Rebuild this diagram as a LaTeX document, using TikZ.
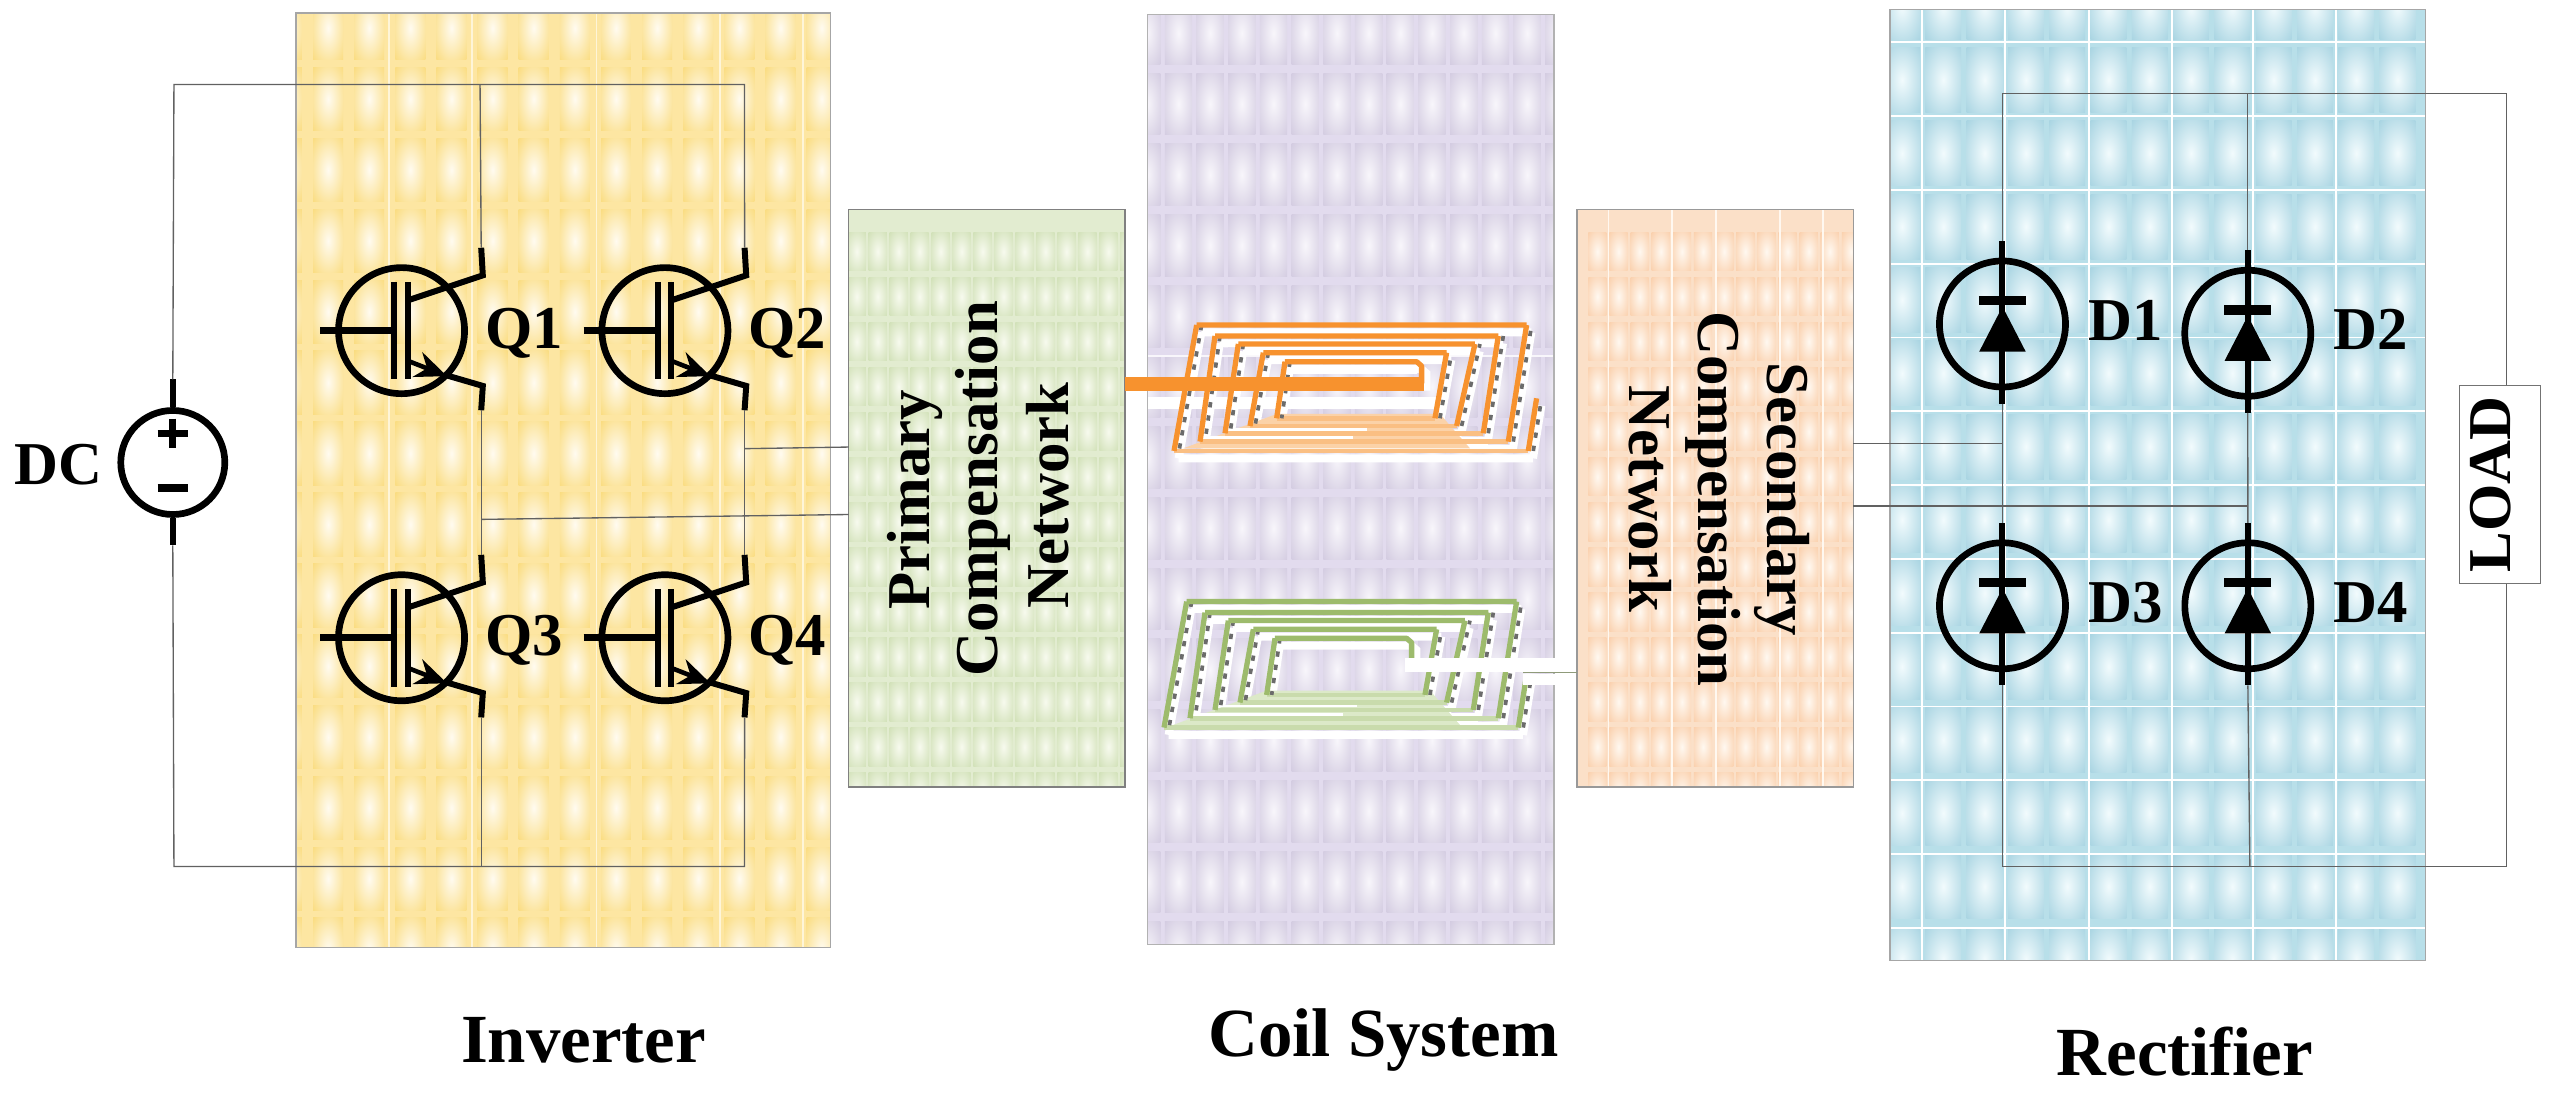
\documentclass[tikz,border=0pt]{standalone}
\usepackage{fontspec}
\setmainfont{Liberation Serif}
\usetikzlibrary{arrows.meta}

\definecolor{invb}{HTML}{FDE6A2}\definecolor{invt}{HTML}{FADB7C}\definecolor{invc}{HTML}{FFFBF0}
\definecolor{coib}{HTML}{E2DBEE}\definecolor{coit}{HTML}{D2CAE0}\definecolor{coic}{HTML}{F8F6FB}
\definecolor{recb}{HTML}{B8DFE9}\definecolor{rect}{HTML}{A6D3E1}\definecolor{recc}{HTML}{F2FBFD}
\definecolor{prib}{HTML}{E2ECD0}\definecolor{prit}{HTML}{D0E0B6}\definecolor{pric}{HTML}{F7FAEE}
\definecolor{secb}{HTML}{FBE0C8}\definecolor{sect}{HTML}{FACFAB}\definecolor{secc}{HTML}{FFF8F0}
\definecolor{coilorange}{HTML}{F7922E}\definecolor{coilpeach}{HTML}{FBD2A8}
\definecolor{coilgreen}{HTML}{9DBB6C}\definecolor{coilmint}{HTML}{DCE9C8}

\colorlet{tilein}{white}
\colorlet{tileout}{white}
\pgfdeclareradialshading[tilein,tileout]{tilesoft}{\pgfpoint{0bp}{0bp}}{%
  color(0bp)=(tilein); color(37bp)=(tileout); color(50bp)=(tileout)}

\tikzset{
  wire/.style={black!62,line width=0.38pt},
  sym/.style={circle,draw,line width=1.9pt,minimum size=1.26cm,inner sep=0pt},
  lead/.style={line width=1.7pt},
  tag/.style={font=\bfseries\fontsize{17.3}{19.6}\selectfont,inner sep=0pt},
  title/.style={font=\bfseries\fontsize{19.6}{22}\selectfont,inner sep=0pt},
  block/.style={tag,align=center,text depth=0pt}
}

% colour prefix, x0, y0, x1, y1, column list, row list, half tile w, half tile h
\newcommand{\tilearea}[9]{
  \begin{scope}
    \colorlet{tilein}{#1c}
    \colorlet{tileout}{#1t}
    \clip (#2,#3) rectangle (#4,#5);
    \fill[#1b] (#2,#3) rectangle (#4,#5);
    \foreach \cx in {#6}
      \foreach \cy in {#7}
        \shade[shading=tilesoft] ({\cx-#8},{\cy-#9}) rectangle ({\cx+#8},{\cy+#9});
  \end{scope}
}

% the spiral, in steps of its own
\newcommand{\coiltops}{(965,340)--(965,288)--(950,275)--(555,275) (1040,248)--(490,248)
  (1125,222)--(415,222) (1195,198)--(345,198) (1280,165)--(290,165)}
\newcommand{\coilsides}{(555,275)--(530,445) (490,248)--(450,468) (415,222)--(375,490)
  (345,198)--(300,515) (290,165)--(222,543) (1005,445)--(1040,248) (1070,468)--(1125,222)
  (1150,490)--(1195,198) (1225,515)--(1280,165) (1285,543)--(1310,385)}
\newcommand{\coilbottoms}{(530,445)--(1005,445) (450,468)--(1070,468) (375,490)--(1150,490)
  (300,515)--(1225,515) (222,543)--(1285,543)}
\newcommand{\coil}[2]{
  \draw[white,line width=2.3pt,shift={(14,22)}] \coiltops \coilsides \coilbottoms;
  \fill[#2] (530,432)--(1020,432)--(1110,535)--(250,535)--cycle;
  \draw[white,line width=0.8pt] (390,478)--(800,478) (320,503)--(760,503);
  \draw[#2!70!#1,line width=1.3pt] \coilbottoms;
  \draw[black!58,line width=1.05pt,dash pattern=on 1.5pt off 2.3pt,shift={(15,0)}] \coilsides;
  \draw[#1,line width=1.5pt,line join=round] \coiltops \coilsides;
}

\begin{document}
\begin{tikzpicture}[x=0.016256cm,y=-0.016256cm,node distance=2.633cm]

    \fill[white] (0,0) rectangle (1568,676.06);
    \useasboundingbox (0,0) rectangle (1568,676.06);

    % backgrounds
    \tilearea{inv}{182}{8}{511}{583}{176.5,201.8,...,520}{17.4,61,...,600}{9.2}{19.5}
    \tilearea{coi}{706}{9}{956}{581}{705.4,724.9,...,970}{20.5,64,...,600}{8.4}{19}
    \tilearea{rec}{1162.6}{6}{1492}{591}{1170,1195.4,...,1500}{4.1,49.2,...,600}{11}{20}
    \tilearea{pri}{522}{129}{692}{484}{527,539.9,...,700}{154.8,182.5,...,490}{5.6}{11.8}
    \tilearea{sec}{970}{129}{1140}{484}{982.6,995.6,...,1150}{154.8,182.5,...,490}{5.6}{11.8}

    \foreach \x in {239.5,290.5,367,443,494}
        \draw[invc!70!invb,line width=0.5pt] (\x,8)--(\x,583);
    \foreach \x in {989.4,1028.4,1055.4,1095,1121.2}
        \draw[secc,line width=0.5pt] (\x,129)--(\x,484);
    \foreach \x in {1182.5,1233.4,1285,1336,1386,1437}
        \draw[white,line width=0.55pt] (\x,6)--(\x,591);
    \foreach \y in {26,71.4,...,590}
        \draw[white,line width=0.55pt] (1162.6,\y)--(1492,\y);
    \draw[coic,line width=0.4pt] (706,219)--(956,219);

    \draw[black!35,line width=0.4pt] (182,8) rectangle (511,583);
    \draw[black!30,line width=0.4pt] (706,9) rectangle (956,581);
    \draw[black!35,line width=0.4pt] (1162.6,6) rectangle (1492,591);
    \draw[black!50,line width=0.4pt] (522,129) rectangle (692,484);
    \draw[black!40,line width=0.4pt] (970,129) rectangle (1140,484);

    % coils
    \begin{scope}[shift={(676.67,166.1)},scale=0.205]
        \fill[white] (145,380) rectangle (1010,418);
        \fill[white] (560,288) rectangle (950,312);
        \coil{coilorange}{coilpeach}
        \coordinate (oin) at (75,342);
        \coordinate (oend) at (972,342);
    \end{scope}
    \begin{scope}[shift={(676.67,166.1)},scale=0.205]
        \begin{scope}[shift={(-30,830)}]
            \fill[white] (560,288) rectangle (950,305);
            \coil{coilgreen}{coilmint}
        \end{scope}
        \fill[white] (915,1165) rectangle (1365,1205);
        \fill[white] (1270,1212) rectangle (1365,1245);
        \coordinate (gend) at (1270,1208);
        \coordinate (gout) at (1430,1208);
    \end{scope}
    \draw[coilorange,line width=4.25pt] (oin)--(oend);
    \draw[coilgreen!60!black!70,line width=0.4pt] (gend)--(gout);

    % switches
    \node[sym] (q1) at (247,203.4) {};
    \node[sym,right of=q1] (q2) {};
    \node[sym,below of=q1,node distance=3.07cm] (q3) {};
    \node[sym,right of=q3] (q4) {};
    \foreach \q/\t in {q1/Q1,q2/Q2,q3/Q3,q4/Q4}{
        \begin{scope}[shift={(\q)}]
            \draw[lead,line width=2.1pt] (-50,0)--(-6,0);
            \draw[lead] (-4.5,-30)--(-4.5,30) (4,-30)--(4,30);
            \draw[lead,line join=miter] (5,-19)--(50,-34)--(49,-51);
            \draw[lead] (26,27)--(50,34)--(49,49);
            \draw[lead,line width=1.3pt,-{Stealth[length=9pt,width=7.5pt]}] (5,19)--(28,28);
            \coordinate (\q c) at (49,-51);
            \coordinate (\q e) at (49,49);
            \node[tag,anchor=base west] (\q t) at (51,10.7) {\t};
        \end{scope}
    }

    % source
    \node[sym,minimum size=1.04cm] (dc) at (106.3,284.5) {};
    \draw[lead] (dc.north)--++(0,-17) coordinate (dct);
    \draw[lead] (dc.south)--++(0,17) coordinate (dcb);
    \draw[line width=1.9pt] (97,266.6)--(115.6,266.6) (106.3,257.5)--(106.3,275.7);
    \draw[line width=2.2pt] (97,300)--(115.6,300);
    \node[tag,anchor=base east] (dcl) at (63.5,298) {DC};

    % diodes
    \node[sym] (d1) at (1231.8,199.3) {};
    \node[sym] (d2) at (1382.7,205) {};
    \node[sym,below of=d1,node distance=2.817cm] (d3) {};
    \node[sym,right of=d3,node distance=2.453cm] (d4) {};
    \foreach \d/\t in {d1/D1,d2/D2,d3/D3,d4/D4}{
        \begin{scope}[shift={(\d)}]
            \draw[lead] (0,-51)--(0,49);
            \draw[line width=2.7pt] (-14.5,-14.3)--(14.5,-14.3);
            \fill (0,-10.7)--(14.3,17)--(-14.3,17)--cycle;
            \coordinate (\d k) at (0,-51);
            \coordinate (\d a) at (0,49);
            \node[tag,anchor=base west] (\d t) at (52.5,10) {\t};
        \end{scope}
    }

    % wiring
    \coordinate (tl) at (107,52);
    \coordinate (tm) at (295.3,52);
    \coordinate (tr) at (458,52);
    \coordinate (bl) at (107,533);
    \coordinate (bm) at (296,533);
    \coordinate (br) at (458,533);
    \coordinate (qa) at (296,319.5);
    \coordinate (qb) at (458,276);
    \coordinate (pa) at (522,316.5);
    \coordinate (pb) at (522,275);
    \draw[wire] (dct)--(tl)--(tr)--(q2c);
    \draw[wire] (tm)--(q1c);
    \draw[wire] (dcb)--(bl)--(br)--(q4e);
    \draw[wire] (bm)--(q3e);
    \draw[wire] (q1e)--(q3c);
    \draw[wire] (q2e)--(q4c);
    \draw[wire] (qa)--(pa);
    \draw[wire] (qb)--(pb);

    \coordinate (rtl) at (1231.8,57.4);
    \coordinate (rtm) at (1382.7,57.4);
    \coordinate (rtr) at (1542,57.4);
    \coordinate (rbl) at (1231.8,533);
    \coordinate (rbm) at (1384,533);
    \coordinate (rbr) at (1542,533);
    \coordinate (sa) at (1140,273);
    \coordinate (sb) at (1140,311.3);
    \coordinate (da) at (1231.8,273);
    \coordinate (db) at (1382.7,311.3);
    \coordinate (lt) at (1542,236.8);
    \coordinate (lb) at (1542,359);
    \draw[wire] (d1k)--(rtl)--(rtr)--(lt);
    \draw[wire] (rtm)--(d2k);
    \draw[wire] (d3a)--(rbl)--(rbr)--(lb);
    \draw[wire] (rbm)--(d4a);
    \draw[wire] (d1a)--(d3k);
    \draw[wire] (d2a)--(d4k);
    \draw[wire] (sa)--(da);
    \draw[wire] (sb)--(db);

    % load
    \node[draw=black!55,fill=white,line width=0.4pt,minimum width=1.98cm,minimum height=0.806cm,rotate=90,inner sep=0pt] (loadbox) at (1537.8,298) {};
    \node[tag,rotate=90] (load) at (1532,298) {LOAD};

    % blocks
    \node[tag,rotate=90,anchor=base] (prima) at (571.5,307.5) {Primary};
    \node[tag,rotate=90,anchor=base] (primb) at (613.5,300.5) {Compensation};
    \node[tag,rotate=90,anchor=base] (primc) at (657,305) {Network};
    \node[block,rotate=-90] (seco) at (1058,307) {Secondary\\Compensation\\Network};

    % titles
    \node[title] (inv) at (359,640) {Inverter};
    \node[title] (coils) at (851,640) {Coil System};
    \node[title] (recti) at (1344,647) {Rectifier};

\end{tikzpicture}
\end{document}
